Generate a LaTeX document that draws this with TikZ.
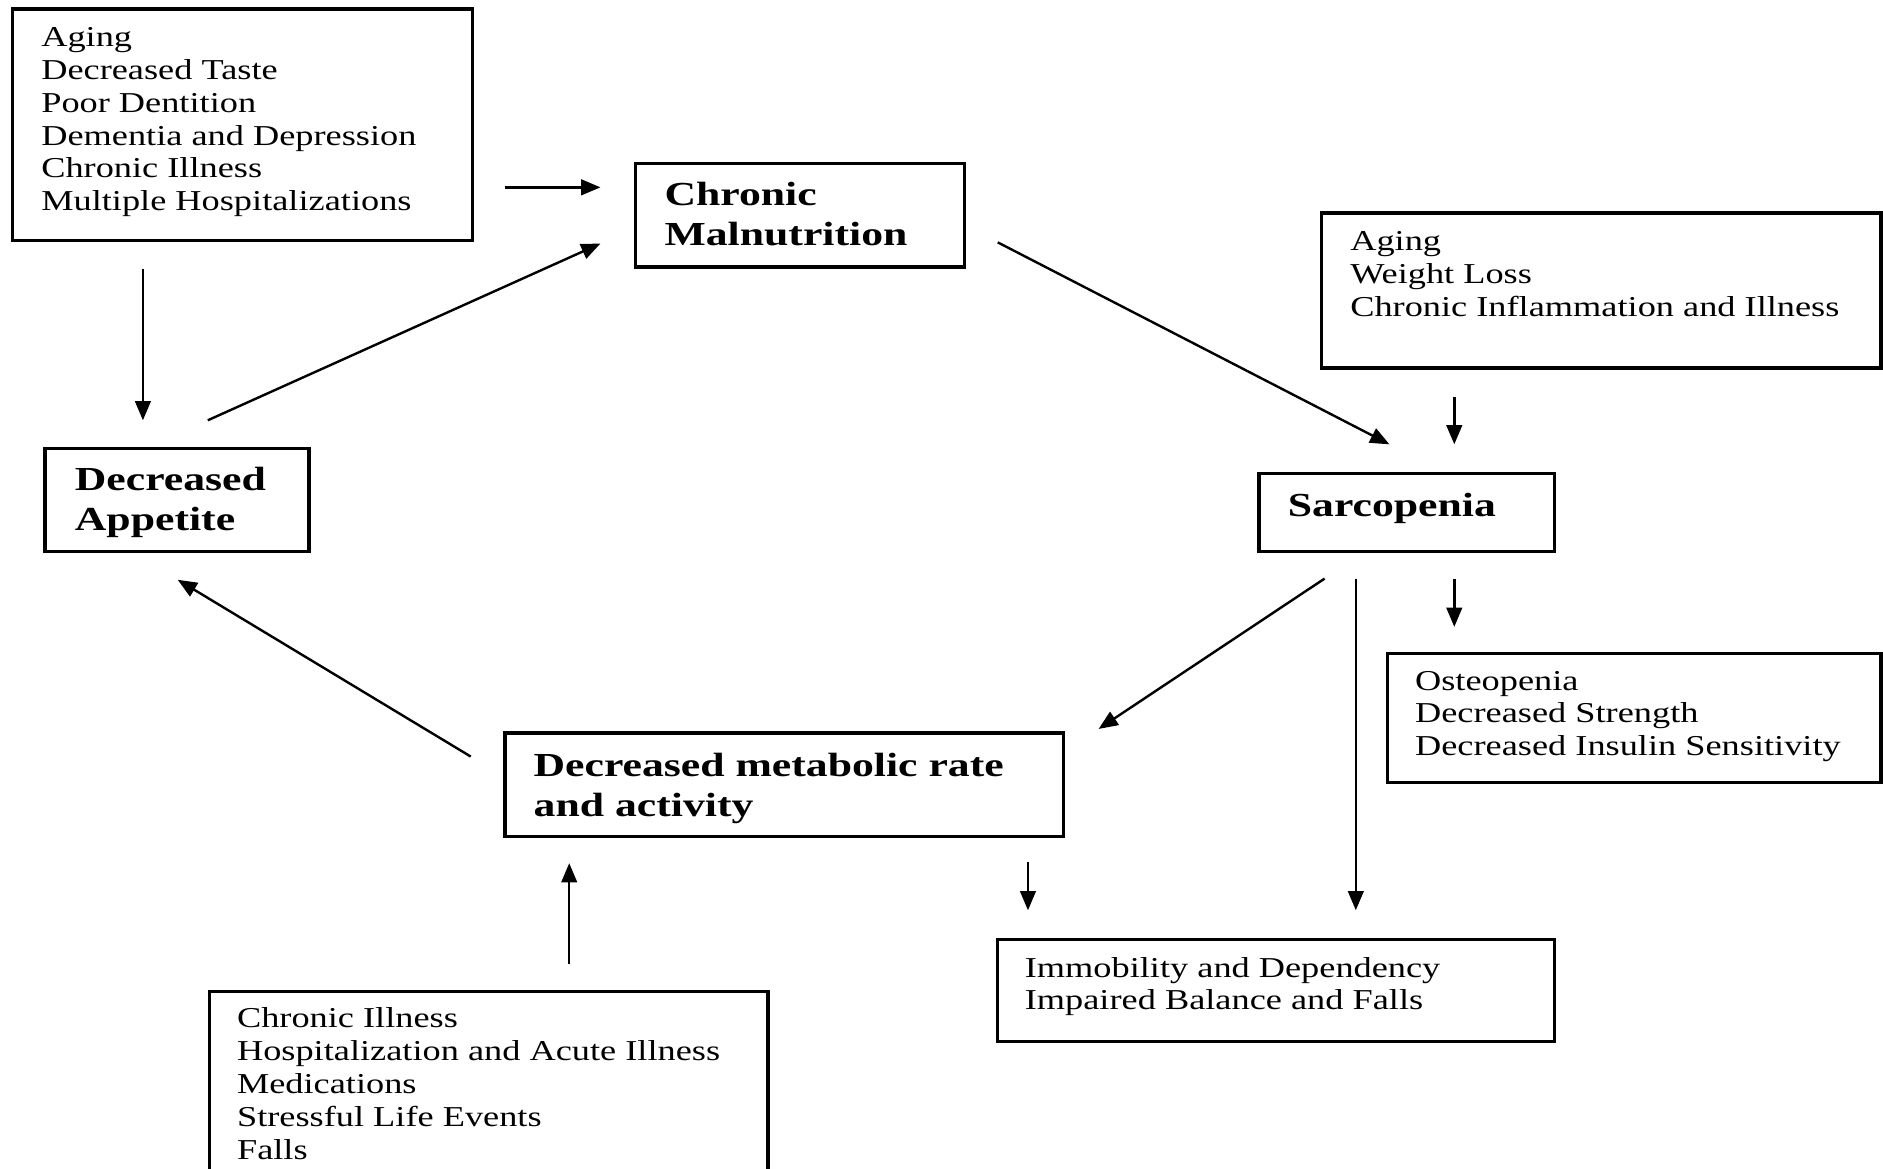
\documentclass[tikz,border=0pt]{standalone}
\usepackage{fontspec}
\setmainfont[FakeStretch=1.26,BoldFeatures={FakeStretch=1.30}]{Liberation Serif}
\usetikzlibrary{arrows.meta,calc}
\begin{document}
\begin{tikzpicture}[x=0.5pt,y=-0.5pt,
  box/.style={draw=black,line width=1.4pt,rectangle,inner sep=0pt,anchor=north west},
  listtxt/.style={anchor=north west,inner sep=0pt,align=left,font=\fontsize{12}{13.7}\selectfont},
  headtxt/.style={anchor=north west,inner sep=0pt,align=left,font=\fontsize{14}{16.5}\selectfont\bfseries},
  arr/.style={draw=black,line width=1pt,-{Triangle[length=8pt,width=6.5pt]}}]
\useasboundingbox (0,0) rectangle (1568,973);
% boxes
\node[box,minimum width=383*0.5pt,minimum height=193*0.5pt] (A) at (9,6) {};
\node[box,minimum width=274*0.5pt,minimum height=86*0.5pt] (CM) at (528,135) {};
\node[box,minimum width=220*0.5pt,minimum height=86*0.5pt] (DA) at (36,372) {};
\node[box,minimum width=466*0.5pt,minimum height=129*0.5pt] (B) at (1099,176) {};
\node[box,minimum width=246*0.5pt,minimum height=65*0.5pt] (S) at (1047,393) {};
\node[box,minimum width=411*0.5pt,minimum height=107*0.5pt] (C) at (1154,543) {};
\node[box,minimum width=465*0.5pt,minimum height=86*0.5pt] (M) at (419,609) {};
\node[box,minimum width=465*0.5pt,minimum height=160*0.5pt] (D) at (173,824) {};
\node[box,minimum width=464*0.5pt,minimum height=85*0.5pt] (E) at (829,781) {};
% texts
\node[listtxt] (tA) at ($(A.north west)+(25,13)$) {\strut Aging\\Decreased Taste\\Poor Dentition\\Dementia and Depression\\Chronic Illness\\Multiple Hospitalizations};
\node[headtxt] (tCM) at ($(CM.north west)+(25,13)$) {\strut Chronic\\Malnutrition};
\node[headtxt] (tDA) at ($(DA.north west)+(26,13)$) {\strut Decreased\\Appetite};
\node[listtxt] (tB) at ($(B.north west)+(25,13)$) {\strut Aging\\Weight Loss\\Chronic Inflammation and Illness};
\node[headtxt] (tS) at ($(S.north west)+(25,14)$) {\strut Sarcopenia};
\node[listtxt] (tC) at ($(C.north west)+(24,12)$) {\strut Osteopenia\\Decreased Strength\\Decreased Insulin Sensitivity};
\node[headtxt] (tM) at ($(M.north west)+(25,14)$) {\strut Decreased metabolic rate\\and activity};
\node[listtxt] (tD) at ($(D.north west)+(24,12)$) {\strut Chronic Illness\\Hospitalization and Acute Illness\\Medications\\Stressful Life Events\\Falls};
\node[listtxt] (tE) at ($(E.north west)+(24,13)$) {\strut Immobility and Dependency\\Impaired Balance and Falls};
% connectors
\draw[arr] ($(A.north east)+(26,150)$) -- ($(CM.north west)+(-28,21)$);
\draw[arr] ($(A.south west)+(110,22)$) -- ($(DA.north west)+(83,-22)$);
\draw[arr] ($(DA.north west)+(137,-22)$) -- ($(CM.south west)+(-28,-21)$);
\draw[arr] ($(CM.south east)+(26,-22)$) -- ($(S.north west)+(110,-23)$);
\draw[arr] ($(B.south west)+(112,23)$) -- ($(S.north west)+(164,-23)$);
\draw[arr] ($(S.south west)+(164,21)$) -- ($(C.north west)+(57,-21)$);
\draw[arr] ($(S.south west)+(56,21)$) -- ($(M.north east)+(28,-2)$);
\draw[arr] ($(S.south west)+(82,21)$) -- ($(E.north west)+(300,-23)$);
\draw[arr] ($(M.north west)+(-27,21)$) -- ($(DA.south west)+(112,22)$);
\draw[arr] ($(D.north west)+(301,-21)$) -- ($(M.south west)+(55,21)$);
\draw[arr] ($(M.south west)+(437,20)$) -- ($(E.north west)+(27,-23)$);
\end{tikzpicture}
\end{document}
